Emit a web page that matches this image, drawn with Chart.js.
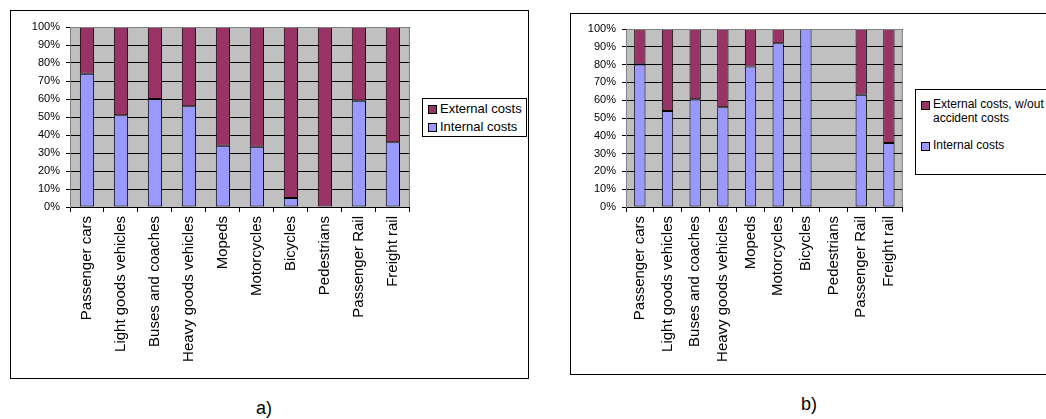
<!DOCTYPE html>
<html>
<head>
<meta charset="utf-8">
<script src="https://cdn.jsdelivr.net/npm/chart.js@4"></script>
<style>
  body { margin: 0; background: #fff; font-family: "Liberation Sans", Arial, sans-serif; }
  .frame { position: absolute; border: 1px solid #000; box-sizing: border-box; }
  .wrap { position: absolute; }
  .legend { position: absolute; border: 1px solid #000; background: #fff; box-sizing: border-box; color: #000; }
  .item { position: absolute; left: 5px; white-space: nowrap; line-height: 1.2; }
  .sw { position: absolute; width: 7px; height: 7px; border: 1px solid #000; }
  .cap { position: absolute; font-size: 18px; }
</style>
</head>
<body>
<div class="frame" style="left:10px;top:10px;width:519px;height:369px"></div>
<div class="frame" style="left:570px;top:13px;width:480px;height:362px"></div>

<div class="wrap" style="left:11px;top:11px;width:404px;height:366px"><canvas id="chartA"></canvas></div>
<div class="wrap" style="left:571px;top:14px;width:340px;height:359px"><canvas id="chartB"></canvas></div>

<div class="legend" id="legendA" style="left:422px;top:98px;width:105px;height:39px;font-size:13px"></div>
<div class="legend" id="legendB" style="left:915px;top:89px;width:140px;height:86px;font-size:12px"></div>

<div class="cap" style="left:256px;top:398px">a)</div>
<div class="cap" style="left:801px;top:394px">b)</div>

<script>
// categories
const modes = ['Passenger cars', 'Light goods vehicles', 'Buses and coaches', 'Heavy goods vehicles',
  'Mopeds', 'Motorcycles', 'Bicycles', 'Pedestrians', 'Passenger Rail', 'Freight rail'];

// a) shares in %
const internalA = [74, 51, 60, 56, 34, 33.5, 5, 0, 59, 36];
const externalA = [26, 49, 40, 44, 66, 66.5, 95, 100, 41, 64];

// b) shares in %, without accident costs (no data for pedestrians)
const internalB = [80, 54, 60.5, 56, 79, 92, 100, null, 63, 36];
const externalB = [20, 46, 39.5, 44, 21, 8, 0, null, 37, 64];

const percentTicks = [0, 10, 20, 30, 40, 50, 60, 70, 80, 90, 100];

const INTERNAL_COLOR = '#9999FF';
const EXTERNAL_COLOR = '#993366';
const FONT = '"Liberation Sans", Arial, sans-serif';

// grey plot area like old Excel charts
const plotBg = {
  id: 'plotBg',
  beforeDraw(chart) {
    const a = chart.chartArea, ctx = chart.ctx;
    ctx.save();
    ctx.fillStyle = '#C0C0C0';
    ctx.fillRect(a.left, a.top, a.right - a.left, a.bottom - a.top);
    ctx.restore();
  },
  afterDraw(chart) {
    const a = chart.chartArea, ctx = chart.ctx;
    ctx.save();
    ctx.strokeStyle = '#808080';
    ctx.lineWidth = 1;
    ctx.beginPath();
    ctx.moveTo(a.left, a.top + 0.5);
    ctx.lineTo(a.right - 0.5, a.top + 0.5);
    ctx.lineTo(a.right - 0.5, a.bottom);
    ctx.stroke();
    ctx.restore();
  }
};

function makeChart(id, internal, external, externalLabel, o) {
  return new Chart(document.getElementById(id), {
    type: 'bar',
    data: {
      labels: modes,
      datasets: [{
        label: 'Internal costs',
        data: internal,
        backgroundColor: INTERNAL_COLOR,
        borderColor: '#000',
        borderWidth: 1,
        borderSkipped: false,
        barPercentage: o.bar,
        categoryPercentage: 1
      }, {
        label: externalLabel,
        data: external,
        backgroundColor: EXTERNAL_COLOR,
        borderColor: '#000',
        borderWidth: 1,
        borderSkipped: false,
        barPercentage: o.bar,
        categoryPercentage: 1
      }]
    },
    options: {
      responsive: true,
      maintainAspectRatio: false,
      animation: false,
      layout: { padding: { top: o.top, right: 2, left: 0, bottom: 0 } },
      plugins: { legend: { display: false }, tooltip: { enabled: false } },
      scales: {
        x: {
          stacked: true,
          afterFit(s) { s.height = o.xh; },
          grid: { offset: true, drawOnChartArea: false, drawTicks: true, tickLength: 5, color: '#000' },
          border: { color: '#000', width: 1 },
          ticks: {
            autoSkip: false, maxRotation: 90, minRotation: 90, padding: 4,
            color: '#000', font: { family: FONT, size: 15 }
          }
        },
        y: {
          stacked: true,
          min: 0,
          max: 100,
          afterFit(s) { s.width = o.yw; },
          afterBuildTicks(s) { s.ticks = percentTicks.map(v => ({ value: v })); },
          grid: { color: '#000', lineWidth: 1, tickLength: 4, drawTicks: true },
          border: { color: '#808080', width: 1 },
          ticks: {
            padding: 6, color: '#000', font: { family: FONT, size: o.yfont },
            callback: v => v + '%'
          }
        }
      }
    },
    plugins: [plotBg]
  });
}

makeChart('chartA', internalA, externalA, 'External costs', { bar: 0.42, top: 16, xh: 170, yw: 59, yfont: 11 });
makeChart('chartB', internalB, externalB, 'External costs, w/out accident costs', { bar: 0.41, top: 15, xh: 166, yw: 55, yfont: 11 });

// legends (external listed first, as in the original)
function legend(id, items, rows) {
  const el = document.getElementById(id);
  items.forEach((it, i) => {
    const d = document.createElement('div');
    d.className = 'item';
    d.style.top = rows[i] + 'px';
    d.style.paddingLeft = '12px';
    d.innerHTML = '<span class="sw" style="left:0;top:' + it.sw + 'px;background:' + it.color + '"></span>' + it.text;
    el.appendChild(d);
  });
}
legend('legendA', [
  { text: 'External costs', color: EXTERNAL_COLOR, sw: 4 },
  { text: 'Internal costs', color: INTERNAL_COLOR, sw: 4 }
], [2, 20]);
legend('legendB', [
  { text: 'External costs, w/out<br>accident costs', color: EXTERNAL_COLOR, sw: 4 },
  { text: 'Internal costs', color: INTERNAL_COLOR, sw: 4 }
], [7, 48]);
</script>
</body>
</html>
